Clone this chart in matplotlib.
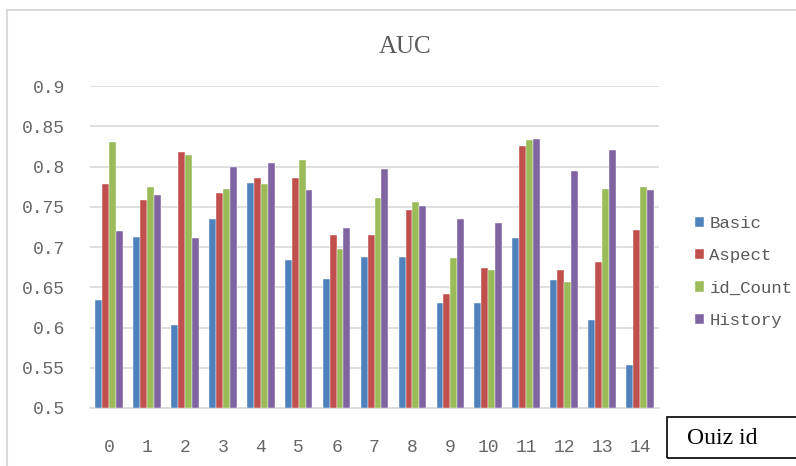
#!/usr/bin/env python3
import numpy as np
import matplotlib
matplotlib.use("Agg")
import matplotlib.pyplot as plt
from matplotlib.patches import Rectangle

quiz_ids = [str(i) for i in range(15)]
basic = [0.634, 0.713, 0.603, 0.735, 0.780, 0.684, 0.660, 0.688, 0.688, 0.631,
         0.631, 0.711, 0.659, 0.609, 0.553]
aspect = [0.778, 0.758, 0.818, 0.767, 0.786, 0.786, 0.715, 0.715, 0.746, 0.642,
          0.674, 0.826, 0.672, 0.681, 0.721]
id_count = [0.830, 0.775, 0.814, 0.772, 0.778, 0.808, 0.698, 0.761, 0.756, 0.686,
            0.671, 0.833, 0.657, 0.772, 0.775]
history = [0.720, 0.764, 0.711, 0.799, 0.804, 0.771, 0.723, 0.797, 0.751, 0.735,
           0.730, 0.834, 0.795, 0.821, 0.771]
series_names = ["Basic", "Aspect", "id_Count", "History"]
colors = ["#4F81BD", "#C0504D", "#9BBB59", "#8064A2"]
y_ticks = [0.5, 0.55, 0.6, 0.65, 0.7, 0.75, 0.8, 0.85, 0.9]

W, H = 796, 466
fig = plt.figure(figsize=(W / 100, H / 100), dpi=100)
ax = fig.add_axes([90 / W, 1 - 408 / H, (659 - 90) / W, (408 - 86) / H])

x = np.arange(len(quiz_ids))
bw = 0.182
for i, (name, vals) in enumerate(zip(series_names, [basic, aspect, id_count, history])):
    ax.bar(x + (i - 1.5) * bw, np.array(vals) - 0.5, bw, bottom=0.5, color=colors[i],
           edgecolor="white", linewidth=0.3, label=name, zorder=3)

ax.set_xlim(-0.5, 14.5)
ax.set_ylim(0.5, 0.9)
ax.set_xticks(x)
ax.set_xticklabels(quiz_ids)
ax.set_yticks(y_ticks)
ax.set_yticklabels([("%g" % v) for v in y_ticks])
ax.tick_params(length=0, colors="#666666", labelsize=13)
ax.tick_params(axis="y", pad=18)
ax.tick_params(axis="x", pad=22)
for lab in ax.get_xticklabels() + ax.get_yticklabels():
    lab.set_family("Liberation Mono")
ax.grid(axis="y", color="#d9d9d9", linewidth=1.2, zorder=0)
for s in ["left", "right", "top"]:
    ax.spines[s].set_visible(False)
ax.spines["bottom"].set_color("#d9d9d9")
ax.spines["bottom"].set_linewidth(1.2)

fig.text(405 / W, 1 - 47 / H, "AUC", ha="center", va="center", fontsize=18,
         family="Liberation Serif", color="#595959")

leg = ax.legend(loc="center left", bbox_to_anchor=(686 / W, 1 - 272 / H),
                bbox_transform=fig.transFigure, frameon=False,
                prop={"family": "Liberation Mono", "size": 12.5},
                handlelength=0.55, handleheight=0.55, handletextpad=0.3,
                labelspacing=1.0, borderpad=0)
for t in leg.get_texts():
    t.set_color("#595959")

# outer chart border
fig.patches.append(Rectangle((6.5 / W, -0.05), 1.1, 1 - 10 / H + 0.05,
                             transform=fig.transFigure, fill=False,
                             edgecolor="#d9d9d9", linewidth=1.5))
# axis name box
fig.patches.append(Rectangle((667 / W, 1 - 458 / H), 0.3, 41 / H,
                             transform=fig.transFigure, fill=False,
                             edgecolor="black", linewidth=1.2))
fig.text(687 / W, 1 - 439 / H, "Ouiz id", ha="left", va="center", fontsize=17,
         family="Liberation Serif", color="black")

fig.savefig("out.png", dpi=100)
